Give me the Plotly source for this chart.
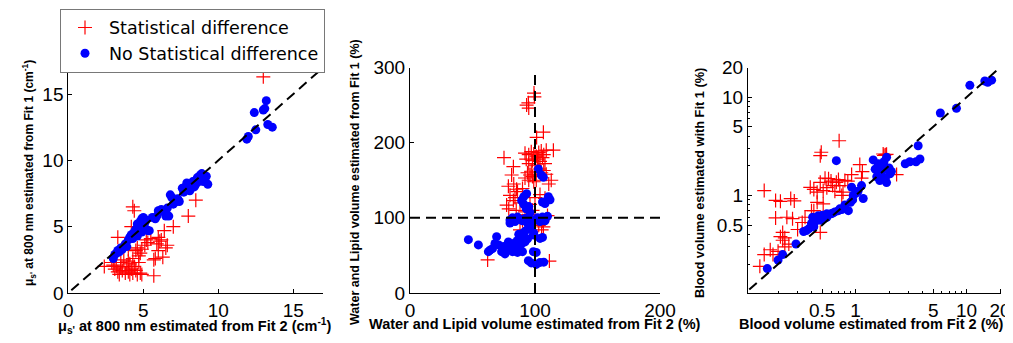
import plotly.graph_objects as go

W, H = 1013, 343
OFF = 8  # page body margin in the browser

# ---------------- data ----------------
# Panel 1: mu_s' at 800 nm (cm^-1), Fit 2 (x) vs Fit 1 (y)
p1_blue_x = [3.0, 3.1, 3.2, 3.3, 3.4, 3.5, 3.7, 3.8, 3.9, 4.0, 4.1, 4.2, 4.3, 4.4, 4.5, 4.6, 4.7, 4.8, 4.9, 5.0,
             5.1, 5.2, 5.3, 4.6, 4.9, 5.0, 5.4, 5.6, 5.8, 5.9, 6.0, 6.2, 6.4, 6.5, 6.7, 6.8, 6.9, 7.0, 7.2, 7.4,
             7.6, 7.7, 7.8, 8.0, 8.1, 8.3, 8.4, 8.6, 8.7, 8.8, 8.9, 9.0, 9.1, 9.2, 9.3, 11.9, 12.0, 12.4, 12.5,
             13.0, 13.1, 13.2, 13.3, 13.6, 3.6, 4.4, 5.2, 6.6, 7.3, 7.9, 8.5, 9.0]
p1_blue_y = [2.6, 2.9, 3.0, 3.2, 3.1, 3.4, 3.5, 3.7, 3.5, 4.0, 4.2, 4.4, 4.1, 4.6, 4.8, 5.2, 4.9, 5.4, 5.6, 5.7,
             5.3, 4.8, 4.7, 4.3, 4.6, 5.1, 4.7, 5.7, 5.6, 5.8, 6.2, 6.3, 6.1, 5.8, 5.8, 7.4, 7.2, 6.7, 6.9, 6.9,
             7.9, 7.6, 8.0, 8.2, 7.7, 8.4, 8.0, 8.7, 8.4, 8.9, 9.0, 8.6, 8.5, 8.8, 8.2, 11.6, 11.8, 13.6, 12.3,
             13.8, 13.9, 14.5, 12.7, 12.5, 3.3, 4.3, 5.5, 6.4, 7.1, 8.3, 8.2, 8.4]
p1_red_x = [13.0, 8.5, 8.0, 7.0, 6.4, 6.6, 6.5, 6.3, 6.1, 6.0, 5.9, 6.2, 6.0, 5.8, 5.7, 5.5, 5.3, 5.2, 5.1, 4.9,
            4.8, 4.7, 4.6, 5.7, 4.3, 4.4, 3.3, 4.2, 2.4, 2.9, 3.1, 3.2, 3.3, 3.5, 3.5, 3.6, 3.7, 3.8, 3.9, 4.0,
            4.0, 4.1, 4.1, 4.2, 4.3, 4.3, 4.4, 4.5, 4.6, 4.7, 4.8, 4.9, 3.4, 3.0, 4.5, 4.0]
p1_red_y = [16.3, 7.0, 5.8, 5.0, 4.7, 3.6, 3.4, 2.7, 3.9, 4.2, 3.7, 4.0, 3.2, 2.6, 2.5, 4.1, 3.8, 4.0, 3.6, 3.3,
            3.0, 2.8, 3.4, 1.3, 6.5, 6.2, 4.2, 5.0, 2.0, 2.3, 1.8, 2.0, 1.6, 1.9, 2.3, 1.7, 2.5, 1.5, 2.0, 1.6,
            2.4, 1.4, 2.2, 1.8, 2.6, 1.5, 2.0, 1.7, 1.4, 2.3, 1.5, 1.4, 1.4, 2.1, 3.2, 3.3]
p1_diag = [0.2, 16.8]
p1_ticks = [0, 5, 10, 15]

# Panel 2: water and lipid volume (%), Fit 2 (x) vs Fit 1 (y)
p2_blue_x = [46.7, 54.7, 62.7, 64, 66, 69.3, 68, 71, 73.3, 75, 78.7, 76, 80, 82, 84, 86, 88, 90, 84, 86,
             88, 90, 92, 87, 85, 89, 92, 94, 80, 80, 82, 84, 86, 88, 90, 92, 94, 96, 98, 100,
             102, 104, 106, 108, 110, 95, 97, 99, 98.7, 96, 93, 91, 89.3, 93.3, 91, 95, 104, 106, 98.7, 101,
             94.7, 97, 104, 101, 107, 102.7, 106.7, 105, 110.7, 108, 112, 106]
p2_blue_y = [71, 64, 55, 57, 59, 75, 66, 64, 55, 62, 68, 52, 60, 55, 56, 54, 57, 55, 67, 70,
             74, 79, 82, 78, 63, 65, 68, 72, 97, 93, 100, 95, 101, 98, 96, 99, 93, 98, 95, 97,
             100, 95, 101, 96, 102, 88, 85, 80, 77, 107, 112, 118, 123, 132, 128, 115, 72.6, 74, 55, 54,
             43, 40, 40.7, 38, 41, 165, 154, 157, 128, 119, 124, 121]
p2_red_x = [99.2, 99.5, 93.3, 94.7, 95, 106.7, 101.3, 75.2, 114.7, 82.7, 81.3, 78.7, 85.3, 80, 82.7, 77.3, 83, 86, 84, 79,
            62.1, 111.5, 106.7, 105.3, 96, 98, 100, 97, 103, 90, 88, 92, 95, 97, 99, 101, 103, 105, 107, 109,
            102, 104, 106, 108, 100, 103, 105, 107, 109, 94, 96, 98, 100, 92, 95, 97, 99, 101, 111, 113,
            95, 93, 98, 104, 108, 110, 94, 92, 90, 88, 106, 85, 100]
p2_red_y = [266, 261, 250, 253, 246, 214, 207, 180, 190, 168, 157, 142, 138, 130, 123, 117, 145, 135, 127, 112,
            44, 42.5, 88, 84, 118, 110, 104, 92, 90, 96, 84, 186, 184, 188, 185, 182, 187, 189, 184, 190,
            178, 175, 180, 172, 170, 165, 160, 163, 158, 160, 157, 155, 158, 153, 150, 162, 148, 150, 145, 150,
            172, 178, 176, 131, 126, 103, 104, 108, 139, 120, 96, 110, 127]
p2_hline_x = [0, 200]
p2_hline_y = [100, 100]
p2_vline_x = [100, 100]
p2_vline_y = [0, 296]
p2_xticks = [0, 100, 200]
p2_yticks = [0, 100, 200, 300]

# Panel 3: blood volume (%), Fit 2 (x) vs Fit 1 (y), log-log
p3_blue_x = [16.8, 14.6, 15.5, 10.7, 8.1, 5.8, 3.66, 3.8, 3.5, 3.08, 2.8, 0.67, 1.44, 1.9, 1.8, 1.6, 1.7, 1.5, 1.75, 2.0,
             1.65, 2.04, 1.55, 1.85, 1.6, 1.9, 1.7, 2.1, 1.17, 1.13, 0.92, 0.94, 1.0, 1.05, 0.95, 0.86, 0.72, 0.8, 0.9, 0.75,
             0.65, 0.55, 0.6, 0.5, 0.46, 0.41, 0.44, 0.48, 0.52, 0.4, 0.36, 0.34, 0.38, 0.42, 0.29, 0.22, 0.2, 0.16, 0.55, 0.62,
             0.7]
p3_blue_y = [14.9, 14.6, 14.2, 13.2, 7.7, 6.9, 3.2, 2.35, 2.2, 2.2, 2.1, 2.26, 2.3, 2.44, 2.2, 2.1, 1.95, 1.85, 1.8, 1.9,
             1.42, 1.66, 1.55, 1.5, 1.7, 1.35, 1.6, 1.75, 0.93, 1.26, 1.21, 0.9, 1.05, 1.1, 1.0, 0.7, 0.73, 0.8, 0.85, 0.72,
             0.68, 0.6, 0.65, 0.63, 0.62, 0.6, 0.55, 0.56, 0.58, 0.52, 0.44, 0.43, 0.46, 0.48, 0.32, 0.25, 0.22, 0.18, 0.65, 0.66,
             0.7]
p3_red_x = [0.71, 0.49, 0.48, 1.77, 1.85, 1.9, 1.8, 2.34, 1.09, 1.15, 1.13, 0.15, 0.19, 0.21, 0.26, 0.28, 0.19, 0.24, 0.27, 0.33,
            0.48, 0.22, 0.21, 0.23, 0.22, 0.17, 0.15, 0.18, 0.137, 0.39, 0.48, 0.57, 0.67, 0.80, 0.92, 0.72, 0.45, 0.51, 0.62, 0.77,
            0.40, 0.35, 0.51, 0.45, 0.42, 0.55, 0.6, 0.7, 0.85, 0.65, 0.75, 0.42, 0.25, 0.23, 0.2, 0.3, 0.53]
p3_red_y = [3.6, 2.75, 2.54, 2.64, 2.6, 2.62, 2.55, 1.63, 2.06, 1.75, 1.5, 1.12, 0.89, 0.87, 0.93, 0.88, 0.59, 0.6, 0.58, 0.53,
            0.42, 0.42, 0.38, 0.37, 0.35, 0.28, 0.25, 0.25, 0.19, 1.21, 1.36, 1.48, 1.36, 1.42, 1.63, 1.26, 1.08, 1.12, 1.26, 1.08,
            0.7, 0.6, 0.82, 0.85, 1.15, 1.2, 1.4, 1.45, 1.4, 1.1, 1.0, 0.7, 0.32, 0.3, 0.27, 0.45, 1.5]
p3_diag = [0.11, 19.0]
p3_ticks = [0.5, 1, 5, 10, 20]
p3_minor = [0.2, 0.3, 0.4, 0.6, 0.7, 0.8, 0.9, 2, 3, 4, 6, 7, 8, 9]

# ---------------- styling ----------------
RED = "rgb(255,0,0)"
BLUE = "rgb(0,0,255)"
FONT = "Liberation Sans, Arial, sans-serif"
red_marker = dict(symbol="cross-thin", size=10, line=dict(color=RED, width=1.2), color=RED)
blue_marker = dict(symbol="circle", size=9, color=BLUE, line=dict(width=0))
dash_line = dict(color="black", width=2, dash="10px,6px")

fig = go.Figure()

def add_panel(n, rx, ry, bx, by, legend):
    xa = "x" if n == 1 else f"x{n}"
    ya = "y" if n == 1 else f"y{n}"
    fig.add_trace(go.Scatter(x=rx, y=ry, mode="markers", marker=red_marker, name="Statistical difference",
                             showlegend=legend, xaxis=xa, yaxis=ya))
    fig.add_trace(go.Scatter(x=bx, y=by, mode="markers", marker=blue_marker, name="No Statistical difference",
                             showlegend=legend, xaxis=xa, yaxis=ya))

def add_line(n, lx, ly):
    xa = "x" if n == 1 else f"x{n}"
    ya = "y" if n == 1 else f"y{n}"
    fig.add_trace(go.Scatter(x=lx, y=ly, mode="lines", line=dash_line, showlegend=False,
                             hoverinfo="skip", xaxis=xa, yaxis=ya))

add_panel(1, p1_red_x, p1_red_y, p1_blue_x, p1_blue_y, True)
add_line(1, p1_diag, p1_diag)
add_panel(2, p2_red_x, p2_red_y, p2_blue_x, p2_blue_y, False)
add_line(2, p2_hline_x, p2_hline_y)
add_line(2, p2_vline_x, p2_vline_y)
add_panel(3, p3_red_x, p3_red_y, p3_blue_x, p3_blue_y, False)
add_line(3, p3_diag, p3_diag)

def px_x(p):
    return (p - OFF) / W

def px_y(p):
    return 1 - (p - OFF) / H

axis_common = dict(showgrid=False, zeroline=False, showline=True, linecolor="black", linewidth=1,
                   ticks="inside", ticklen=4, tickcolor="black", tickwidth=1, automargin=False,
                   tickfont=dict(family=FONT, size=19, color="black"), mirror=False)

ydom = [px_y(293), px_y(67.5)]

fig.update_layout(
    width=W, height=H, margin=dict(l=0, r=0, t=0, b=0, pad=0, autoexpand=False),
    paper_bgcolor="white", plot_bgcolor="white",
    font=dict(family=FONT, color="black"),
    xaxis=dict(domain=[px_x(68.3), px_x(323.3)], range=[0, 17], tickvals=p1_ticks, anchor="y", **axis_common),
    yaxis=dict(domain=ydom, range=[0, 17], tickvals=p1_ticks, anchor="x", **axis_common),
    xaxis2=dict(domain=[px_x(410), px_x(660)], range=[0, 200], tickvals=p2_xticks, anchor="y2", **axis_common),
    yaxis2=dict(domain=ydom, range=[0, 300], tickvals=p2_yticks, anchor="x2", **axis_common),
    xaxis3=dict(domain=[px_x(748), px_x(1001)], type="log", range=[-0.97, 1.31], tickvals=p3_ticks,
                ticktext=[str(t) for t in p3_ticks], anchor="y3",
                minor=dict(tickvals=p3_minor, ticks="inside", ticklen=2, tickcolor="black"), **axis_common),
    yaxis3=dict(domain=ydom, type="log", range=[-0.993, 1.302], tickvals=p3_ticks,
                ticktext=[str(t) for t in p3_ticks], anchor="x3",
                minor=dict(tickvals=p3_minor, ticks="inside", ticklen=2, tickcolor="black"), **axis_common),
    legend=dict(x=px_x(60), y=px_y(8.6), xanchor="left", yanchor="top", bgcolor="white",
                bordercolor="rgb(120,120,120)", borderwidth=1,
                font=dict(family="DejaVu Sans, sans-serif", size=17.5, color="black"),
                tracegroupgap=0, itemsizing="trace", itemwidth=38),
)

def title(text, cx, cy, size, angle=0):
    fig.add_annotation(text=text, x=px_x(cx), y=px_y(cy), xref="paper", yref="paper",
                       showarrow=False, textangle=angle, xanchor="center", yanchor="middle",
                       font=dict(family=FONT, size=size, color="black"))

mu = "μ<sub>s'</sub>"
title(f"<b>{mu} at 800 nm estimated from Fit 2 (cm<sup>-1</sup>)</b>", 194, 326, 14.5)
title(f"<b>{mu} at 800 nm estimated from Fit 1 (cm<sup>-1</sup>)</b>", 29, 173, 12, -90)
title("<b>Water and Lipid volume estimated from Fit 2 (%)</b>", 535, 324, 14.5)
title("<b>Water and Lipid volume estimated from Fit 1 (%)</b>", 355, 182, 12.5, -90)
title("<b>Blood volume estimated from Fit 2 (%)</b>", 871, 324, 14.5)
title("<b>Blood volume estimated with Fit 1 (%)</b>", 699, 183, 12.8, -90)

fig.write_html("out.html")
